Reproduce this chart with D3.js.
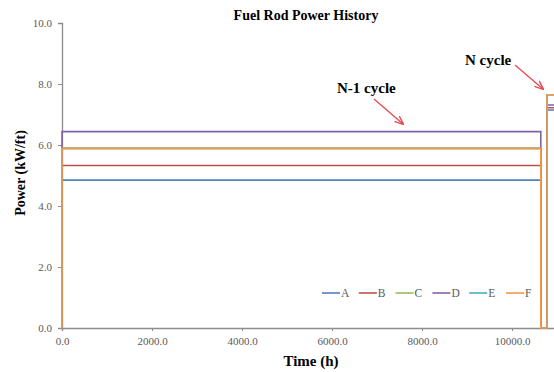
<!DOCTYPE html>
<html>
<head>
<meta charset="utf-8">
<script src="https://cdn.jsdelivr.net/npm/d3@7"></script>
<style>
html,body{margin:0;padding:0;background:#fff;}
svg{display:block;}
text{font-family:"Times New Roman","Liberation Serif",serif;}
</style>
</head>
<body>
<svg id="chart" width="554" height="372"></svg>
<script>
const seriesNames = ["A","B","C","D","E","F"];
const seriesColors = ["#4F81BD","#C0504D","#9BBB59","#8064A2","#4BACC6","#F79646"];
const powerNminus1 = [4.85, 5.33, 5.89, 6.44, 5.89, 5.89];
const powerN = [7.15, 7.22, 7.65, 7.31, 7.65, 7.65];
const eventTimes = [0, 0, 10640, 10640, 10780, 10780, 12000];
const xTicks = [0, 2000, 4000, 6000, 8000, 10000];
const yTicks = [0, 2, 4, 6, 8, 10];

const svg = d3.select("#chart");
const x = d3.scaleLinear().domain([0, 12000]).range([62, 602]);
const y = d3.scaleLinear().domain([0, 10]).range([328, 23]);

// axes
const yAxis = d3.axisLeft(y).tickValues(yTicks).tickFormat(d3.format(".1f")).tickSize(4).tickPadding(6);
const gy = svg.append("g").attr("transform","translate(62,0)").call(yAxis);
const xAxis = d3.axisBottom(x).tickValues(xTicks).tickFormat(d3.format(".1f")).tickSize(3).tickPadding(6);
const gx = svg.append("g").attr("transform","translate(0,328)").call(xAxis);
[gx, gy].forEach(g => {
  g.select(".domain").attr("stroke","#8c8c8c").attr("stroke-width",1.3);
  g.selectAll(".tick line").attr("stroke","#8c8c8c");
  g.selectAll(".tick text").attr("fill","#595959").style("font-size","11px")
   .style("font-family",'"Times New Roman","Liberation Serif",serif');
});

// series
const line = d3.line().x(d => x(d[0])).y(d => y(d[1]));
seriesNames.forEach((name, i) => {
  const pattern = [0, powerNminus1[i], powerNminus1[i], 0, 0, powerN[i], powerN[i]];
  const pts = eventTimes.map((t, k) => [t, pattern[k]]);
  svg.append("path").datum(pts).attr("d", line)
    .attr("fill","none").attr("stroke", seriesColors[i]).attr("stroke-width",1.6);
});

// title and axis labels
svg.append("text").attr("x",306).attr("y",20).attr("text-anchor","middle")
  .style("font-size","14px").style("font-weight","bold").text("Fuel Rod Power History");
svg.append("text").attr("transform","translate(25,173) rotate(-90)").attr("text-anchor","middle")
  .style("font-size","14px").style("font-weight","bold").text("Power (kW/ft)");
svg.append("text").attr("x",311).attr("y",366).attr("text-anchor","middle")
  .style("font-size","15px").style("font-weight","bold").text("Time (h)");

// annotations
svg.append("defs").append("marker").attr("id","arr").attr("viewBox","0 0 10 10")
  .attr("refX",9).attr("refY",5).attr("markerWidth",7).attr("markerHeight",7).attr("orient","auto")
  .append("path").attr("d","M0,1 L10,5 L0,9").attr("fill","none").attr("stroke","#e8474f").attr("stroke-width",1.5);
svg.append("text").attr("x",337).attr("y",93).style("font-size","15px").style("font-weight","bold").text("N-1 cycle");
svg.append("line").attr("x1",374).attr("y1",99).attr("x2",403).attr("y2",124)
  .attr("stroke","#e8474f").attr("stroke-width",1.3).attr("marker-end","url(#arr)");
svg.append("text").attr("x",465).attr("y",65).style("font-size","15px").style("font-weight","bold").text("N cycle");
svg.append("line").attr("x1",515).attr("y1",65).attr("x2",543).attr("y2",89)
  .attr("stroke","#e8474f").attr("stroke-width",1.3).attr("marker-end","url(#arr)");

// legend
const legend = svg.append("g");
seriesNames.forEach((name, i) => {
  const lx = 322 + i * 36.8;
  legend.append("line").attr("x1",lx).attr("x2",lx+18).attr("y1",293).attr("y2",293)
    .attr("stroke",seriesColors[i]).attr("stroke-width",1.6);
  legend.append("text").attr("x",lx+19).attr("y",297).attr("fill","#595959")
    .style("font-size","11.5px").text(name);
});
</script>
</body>
</html>
